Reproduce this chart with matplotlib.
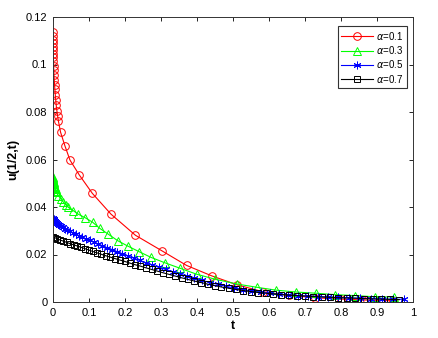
"""
u(1/2,t) theo t cho các giá trị alpha = 0.1, 0.3, 0.5, 0.7
Output: out.png (439x338 px)
"""

# ── 0. Import ─────────────────────────────────────────────────────────
import matplotlib
matplotlib.use("Agg")
import matplotlib.pyplot as plt

plt.rcParams["font.family"] = ["Liberation Sans", "DejaVu Sans"]
plt.rcParams["mathtext.fontset"] = "dejavusans"


# ═══════════════════════════════════════════════════════════════════════
#  DATA
# ═══════════════════════════════════════════════════════════════════════
alpha_labels = [r"$\alpha$=0.1", r"$\alpha$=0.3", r"$\alpha$=0.5", r"$\alpha$=0.7"]

t_a01 = [0, 0.00005, 0.0001, 0.0002, 0.0003, 0.0005, 0.0007, 0.001, 0.0013,
         0.0017, 0.0022, 0.0028, 0.0035, 0.0043, 0.0052, 0.0063, 0.0076, 0.009,
         0.0108, 0.0128, 0.015, 0.021, 0.033, 0.047, 0.073, 0.109, 0.161, 0.229,
         0.302, 0.371, 0.441, 0.512, 0.584, 0.656, 0.728, 0.80, 0.872, 0.944]
u_a01 = [0.1135, 0.112, 0.1105, 0.109, 0.1075, 0.106, 0.1045, 0.103, 0.1013,
         0.0995, 0.0975, 0.0955, 0.0935, 0.0915, 0.0895, 0.0873, 0.085, 0.0828,
         0.0805, 0.0783, 0.0762, 0.0715, 0.0658, 0.0598, 0.0535, 0.0458, 0.037,
         0.0281, 0.0216, 0.0154, 0.011, 0.0072, 0.0043, 0.0028, 0.0018, 0.0012,
         0.0008, 0.0005]

t_a03 = [0, 0.0001, 0.0003, 0.0006, 0.001, 0.0015, 0.002, 0.0027, 0.0035,
         0.0045, 0.0057, 0.007, 0.0085, 0.01, 0.015, 0.022, 0.029, 0.036,
         0.043, 0.056, 0.07, 0.089, 0.11, 0.13, 0.154, 0.18, 0.207, 0.239,
         0.272, 0.311, 0.353, 0.399, 0.45, 0.51, 0.566, 0.619, 0.675, 0.73,
         0.783, 0.839, 0.894, 0.948]
u_a03 = [0.0528, 0.0524, 0.052, 0.0515, 0.051, 0.0505, 0.05, 0.0495, 0.049,
         0.0485, 0.048, 0.0474, 0.0468, 0.0462, 0.0448, 0.0433, 0.042, 0.0408,
         0.0398, 0.0385, 0.037, 0.0355, 0.0336, 0.031, 0.0285, 0.0258, 0.0236,
         0.0212, 0.0188, 0.0165, 0.0142, 0.0117, 0.0096, 0.0076, 0.0062, 0.005,
         0.0042, 0.0037, 0.0031, 0.0027, 0.0022, 0.0021]

t_a05 = [0, 0.0005, 0.0015, 0.003, 0.005, 0.0075, 0.0105, 0.014, 0.018, 0.023,
         0.028, 0.034, 0.04, 0.047, 0.055, 0.063, 0.072, 0.081, 0.091, 0.102,
         0.113, 0.125, 0.137, 0.15, 0.164, 0.178, 0.193, 0.208, 0.224, 0.241,
         0.258, 0.276, 0.294, 0.313, 0.332, 0.352, 0.372, 0.393, 0.414, 0.436,
         0.458, 0.481, 0.504, 0.528, 0.552, 0.577, 0.602, 0.628, 0.654, 0.681,
         0.708, 0.736, 0.764, 0.793, 0.822, 0.852, 0.882, 0.913, 0.944, 0.975]
u_a05 = [0.0355, 0.0352, 0.0348, 0.0344, 0.034, 0.0336, 0.0332, 0.0328, 0.0324,
         0.0319, 0.0314, 0.0309, 0.0304, 0.0298, 0.0292, 0.0286, 0.028, 0.0274,
         0.0267, 0.026, 0.0253, 0.0245, 0.0237, 0.0229, 0.0221, 0.0212, 0.0203,
         0.0194, 0.0185, 0.0175, 0.0165, 0.0156, 0.0146, 0.0137, 0.0127, 0.0118,
         0.0109, 0.01, 0.0091, 0.0082, 0.0074, 0.0066, 0.0059, 0.0052, 0.0046,
         0.0041, 0.0037, 0.0033, 0.003, 0.0027, 0.0025, 0.0023, 0.0021, 0.0019,
         0.0017, 0.0016, 0.0014, 0.0013, 0.0012, 0.0011]

t_a07 = [0, 0.005, 0.012, 0.02, 0.029, 0.038, 0.047, 0.057, 0.067, 0.077, 0.088,
         0.099, 0.11, 0.122, 0.134, 0.146, 0.159, 0.172, 0.185, 0.199, 0.213,
         0.228, 0.243, 0.258, 0.274, 0.29, 0.306, 0.323, 0.34, 0.357, 0.375,
         0.393, 0.411, 0.43, 0.449, 0.468, 0.488, 0.508, 0.528, 0.549, 0.57,
         0.591, 0.612, 0.634, 0.656, 0.678, 0.7, 0.723, 0.746, 0.769, 0.792,
         0.816, 0.84, 0.864, 0.888, 0.912, 0.937, 0.962]
u_a07 = [0.0275, 0.0271, 0.0266, 0.0261, 0.0256, 0.0251, 0.0246, 0.0241, 0.0236,
         0.0231, 0.0225, 0.0219, 0.0213, 0.0207, 0.0201, 0.0195, 0.0189, 0.0183,
         0.0177, 0.0171, 0.0164, 0.0157, 0.0151, 0.0144, 0.0137, 0.013, 0.0123,
         0.0116, 0.0109, 0.0102, 0.0095, 0.0088, 0.0082, 0.0075, 0.0069, 0.0063,
         0.0058, 0.0053, 0.0048, 0.0044, 0.004, 0.0037, 0.0034, 0.0031, 0.0029,
         0.0027, 0.0025, 0.0023, 0.0021, 0.002, 0.0018, 0.0017, 0.0016, 0.0014,
         0.0013, 0.0012, 0.0011, 0.001]

x_ticks = [0, 0.1, 0.2, 0.3, 0.4, 0.5, 0.6, 0.7, 0.8, 0.9, 1]
x_tick_labels = ["0", "0.1", "0.2", "0.3", "0.4", "0.5", "0.6", "0.7", "0.8", "0.9", "1"]
y_ticks = [0, 0.02, 0.04, 0.06, 0.08, 0.1, 0.12]
y_tick_labels = ["0", "0.02", "0.04", "0.06", "0.08", "0.1", "0.12"]


# ═══════════════════════════════════════════════════════════════════════
#  VẼ
# ═══════════════════════════════════════════════════════════════════════
fig = plt.figure(figsize=(4.39, 3.38), dpi=100)
ax = fig.add_axes([53 / 439, 36 / 338, 360 / 439, 285 / 338])

# marker (6, 2, 0) = dấu sao kiểu MATLAB '*'
series = [
    (t_a01, u_a01, "#ff0000", "o", 5.5),
    (t_a03, u_a03, "#00ff00", "^", 6.0),
    (t_a05, u_a05, "#0000ff", (6, 2, 0), 5.5),
    (t_a07, u_a07, "#000000", "s", 4.5),
]
for (t, u, c, mk, ms), lbl in zip(series, alpha_labels):
    ax.plot(t, u, color=c, marker=mk, markersize=ms, markerfacecolor="none",
            markeredgecolor=c, markeredgewidth=0.7, linewidth=0.8, label=lbl)

ax.set_xlim(0, 1)
ax.set_ylim(0, 0.12)
ax.set_xticks(x_ticks)
ax.set_xticklabels(x_tick_labels)
ax.set_yticks(y_ticks)
ax.set_yticklabels(y_tick_labels)
ax.tick_params(direction="in", top=True, right=True, length=3, width=0.6,
               labelsize=8, pad=4)
for sp in ax.spines.values():
    sp.set_linewidth(0.7)
    sp.set_color("#333333")

ax.set_xlabel("t", fontsize=9, fontweight="bold", labelpad=2)
ax.set_ylabel("u(1/2,t)", fontsize=9, fontweight="bold", labelpad=5)

leg = ax.legend(loc="upper right", bbox_to_anchor=(0.983, 0.968), borderaxespad=0,
                fontsize=7, fancybox=False, framealpha=1, edgecolor="#333333",
                handlelength=3.3, handletextpad=0.3, labelspacing=0.25,
                borderpad=0.35)
leg.get_frame().set_linewidth(0.8)

fig.savefig("out.png", dpi=100)
plt.close()
print("  Plot saved: out.png")
